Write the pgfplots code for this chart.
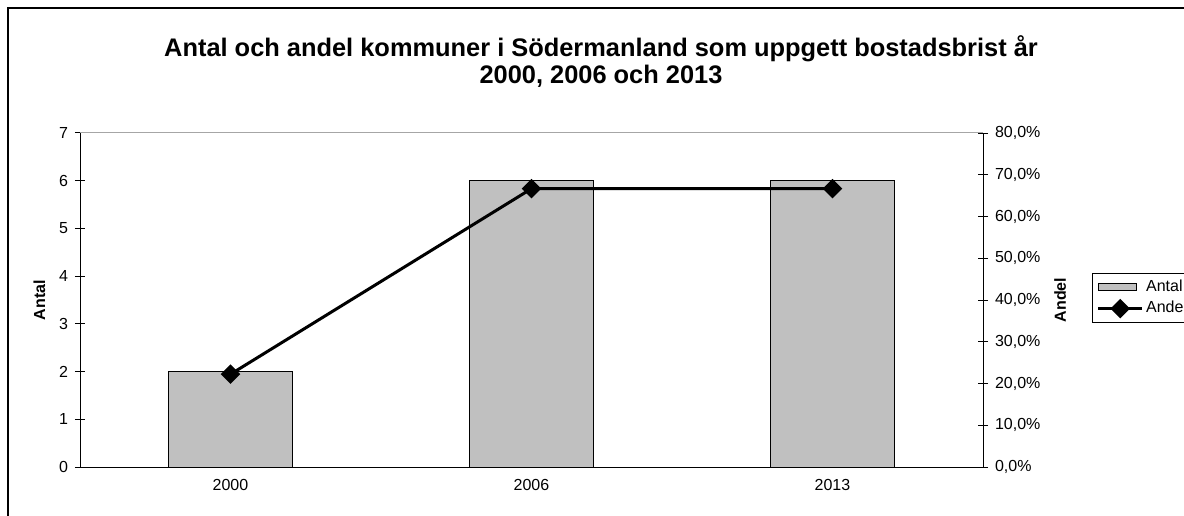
\documentclass[border=0pt]{standalone}
\usepackage{pgfplots}
\pgfplotsset{compat=1.18}
\usepackage{fontspec}
\setmainfont{Liberation Sans}
\definecolor{barfill}{RGB}{192,192,192}
\pgfplotsset{
  barleg/.style={legend image code/.code={\draw[##1] (0pt,-1.75pt) rectangle (19pt,1.75pt);}},
  lineleg/.style={legend image code/.code={\draw[mark repeat=2, mark phase=2, ##1] plot coordinates {(0pt,0pt) (11pt,0pt) (22pt,0pt)};}},
}
\begin{document}
\begin{tikzpicture}[x=0.5pt,y=0.5pt]
\useasboundingbox (0,0) rectangle (1184,515);
\clip (0,0) rectangle (1184,515);
\draw[black, line width=0.6pt] (8,-20) rectangle (1250,507);
\node[font=\bfseries\fontsize{12.7}{13.5}\selectfont, align=center] at (601,453) {Antal och andel kommuner i Södermanland som uppgett bostadsbrist år\\2000, 2006 och 2013};
\begin{axis}[
  at={(40pt,24pt)}, anchor=south west, scale only axis,
  width=451.5pt, height=167pt,
  xmin=-0.5, xmax=2.5, ymin=0, ymax=7,
  axis x line*=bottom, axis y line*=left,
  axis line style={black, line width=0.5pt},
  ytick={0,1,...,7},
  xtick={0,1,2}, xticklabels={2000,2006,2013},
  x tick style={draw=none},
  extra x ticks={0.5,1.5}, extra x tick labels={,},
  extra x tick style={tick align=outside, major tick length=3pt, tick style={black, line width=0.5pt}},
  y tick style={black, line width=0.5pt},
  tick align=center, major tick length=5pt,
  tick label style={font=\fontsize{8}{9}\selectfont},
  /pgf/number format/assume math mode=true,
  ylabel={\bfseries Antal}, ylabel style={font=\fontsize{8}{9}\selectfont},
  clip=false,
]
\draw[gray!70, line width=0.5pt] (axis cs:-0.5,7) -- (axis cs:2.5,7);
\addplot[ybar, bar width=0.41, fill=barfill, draw=black, line width=0.5pt] coordinates {(0,2) (1,6) (2,6)};
\end{axis}
\begin{axis}[
  at={(40pt,24pt)}, anchor=south west, scale only axis,
  width=451.5pt, height=167pt,
  xmin=-0.5, xmax=2.5, ymin=0, ymax=0.8,
  axis x line=none, axis y line*=right,
  axis line style={black, line width=0.5pt},
  ytick={0,0.1,...,0.8},
  yticklabels={{0,0\%},{10,0\%},{20,0\%},{30,0\%},{40,0\%},{50,0\%},{60,0\%},{70,0\%},{80,0\%}},
  y tick style={black, line width=0.5pt},
  tick align=center, major tick length=5pt,
  tick label style={font=\fontsize{8}{9}\selectfont},
  ylabel={\bfseries Andel}, ylabel style={font=\fontsize{8}{9}\selectfont},
  clip=false,
  legend style={at={(1.121,0.581)}, anchor=north west, draw=black, line width=0.5pt,
    font=\fontsize{8}{9}\selectfont, row sep=1pt, inner sep=2pt,
    nodes={inner sep=1.2pt}},
  legend cell align=left,
]
\addlegendimage{fill=barfill, draw=black, line width=0.5pt, barleg}
\addlegendentry{Antal}
\addplot[black, line width=1.5pt, mark=square*, mark size=2.7pt, mark options={rotate=45, solid}, lineleg]
  coordinates {(0,0.2222) (1,0.6667) (2,0.6667)};
\addlegendentry{Andel}
\end{axis}
\end{tikzpicture}
\end{document}
